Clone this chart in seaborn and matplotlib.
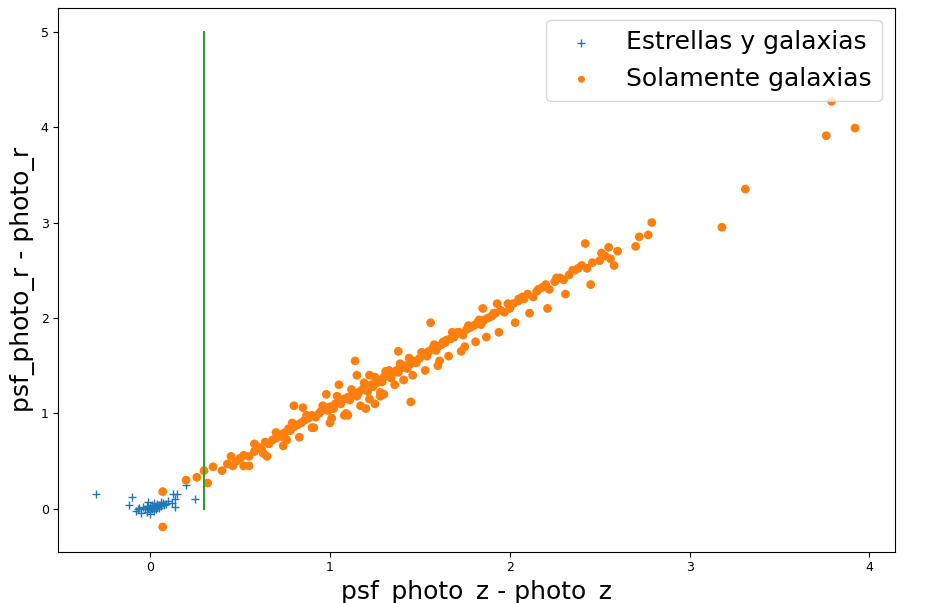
import matplotlib
matplotlib.use("Agg")
import matplotlib.pyplot as plt
import seaborn as sns

# stars + galaxies (blue crosses near the origin)
star_x = [-0.30, -0.12, -0.10, -0.08, -0.06, -0.05, -0.04, -0.03, -0.02, -0.02, -0.01, 0.00,
          0.00, 0.01, 0.01, 0.02, 0.02, 0.03, 0.03, 0.04, 0.04, 0.05, 0.05, 0.06, 0.07, 0.08,
          0.09, 0.10, 0.12, 0.13, 0.14, 0.14, 0.15, -0.01, 0.00, 0.02, 0.20, 0.25, -0.07, 0.06]
star_y = [0.16, 0.04, 0.12, -0.02, 0.01, -0.04, 0.02, 0.00, 0.03, -0.03, 0.01, 0.02,
          -0.05, 0.00, 0.04, 0.01, -0.02, 0.03, 0.00, 0.02, 0.05, 0.01, 0.04, 0.03, 0.06, 0.04,
          0.05, 0.08, 0.06, 0.15, 0.10, 0.02, 0.15, 0.07, -0.01, 0.06, 0.25, 0.10, 0.00, 0.07]

# galaxies only (orange dots)
gal_x = [0.07, 0.07, 0.20, 0.26, 0.32, 0.30, 0.35, 0.40, 0.43, 0.46, 0.48, 0.50, 0.52, 0.55,
         0.58, 0.60, 0.62, 0.64, 0.66, 0.68, 0.70, 0.72, 0.74, 0.75, 0.77, 0.78, 0.80, 0.82,
         0.84, 0.86, 0.88, 0.90, 0.92, 0.94, 0.95, 0.97, 0.99, 1.00, 1.02, 1.03, 1.05, 1.06,
         1.08, 1.10, 1.11, 1.13, 1.15, 1.16, 1.18, 1.20, 1.21, 1.23, 1.24, 1.26, 1.27, 1.29,
         1.30, 1.32, 1.34, 1.35, 1.37, 1.38, 1.40, 1.42, 1.43, 1.45, 1.47, 1.48, 1.50, 1.52,
         1.54, 1.55, 1.57, 1.59, 1.60, 1.62, 1.64, 1.65, 1.67, 1.69, 1.70, 1.72, 1.74, 1.76,
         1.78, 1.80, 1.82, 1.84, 1.86, 1.88, 1.90, 1.92, 1.95, 1.97, 2.00, 2.02, 2.05, 2.08,
         2.10, 2.13, 2.15, 2.18, 2.20, 2.22, 2.25, 2.28, 2.30, 2.33, 2.36, 2.40, 2.43, 2.46,
         2.50, 2.53, 2.56, 2.60, 2.70, 2.72, 2.77, 2.79, 3.18, 3.31, 3.76, 3.79, 3.92,
         0.80, 0.85, 0.90, 1.00, 1.05, 1.15, 1.25, 1.14, 1.45, 1.28, 1.22, 0.76, 0.65, 0.55,
         1.56, 1.75, 1.85, 2.05, 2.35, 2.42, 1.68, 1.38, 0.98, 1.08, 1.33, 1.60, 1.93,
         0.45, 0.52, 0.58, 0.63, 0.70, 0.74, 0.79, 0.83, 0.87, 0.91, 0.96, 1.01, 1.04, 1.09,
         1.12, 1.17, 1.19, 1.22, 1.25, 1.28, 1.31, 1.36, 1.39, 1.41, 1.44, 1.46, 1.51, 1.53,
         1.58, 1.61, 1.63, 1.66, 1.71, 1.73, 1.77, 1.81, 1.83, 1.87, 1.91, 1.94, 1.99, 2.03,
         2.07, 2.11, 2.16, 2.21, 2.26, 2.31, 2.38, 2.45, 2.51, 2.55, 2.58, 1.20, 1.10, 1.30]
gal_y = [0.18, -0.19, 0.30, 0.33, 0.27, 0.40, 0.44, 0.40, 0.47, 0.45, 0.50, 0.53, 0.56, 0.55,
         0.60, 0.65, 0.62, 0.70, 0.68, 0.72, 0.74, 0.78, 0.75, 0.80, 0.84, 0.82, 0.86, 0.88,
         0.90, 0.93, 0.95, 0.98, 0.96, 1.00, 1.02, 1.05, 1.03, 1.07, 1.05, 1.10, 1.12, 1.10,
         1.15, 1.17, 1.14, 1.20, 1.18, 1.22, 1.25, 1.27, 1.23, 1.30, 1.28, 1.32, 1.35, 1.33,
         1.38, 1.40, 1.37, 1.42, 1.45, 1.43, 1.48, 1.50, 1.47, 1.52, 1.55, 1.53, 1.58, 1.62,
         1.60, 1.65, 1.68, 1.66, 1.70, 1.72, 1.74, 1.77, 1.78, 1.80, 1.83, 1.85, 1.82, 1.88,
         1.90, 1.92, 1.95, 1.93, 1.98, 2.00, 2.02, 2.05, 2.08, 2.06, 2.10, 2.15, 2.18, 2.20,
         2.25, 2.22, 2.28, 2.32, 2.35, 2.30, 2.38, 2.42, 2.40, 2.45, 2.50, 2.55, 2.52, 2.58,
         2.60, 2.65, 2.62, 2.70, 2.75, 2.85, 2.87, 3.00, 2.95, 3.35, 3.91, 4.27, 3.99,
         1.08, 1.06, 0.85, 0.90, 1.30, 1.40, 1.10, 1.55, 1.12, 1.18, 1.40, 0.72, 0.55, 0.45,
         1.95, 1.70, 2.10, 2.20, 2.50, 2.78, 1.85, 1.65, 1.20, 0.98, 1.45, 1.50, 2.15,
         0.55, 0.45, 0.68, 0.58, 0.80, 0.66, 0.90, 0.75, 0.98, 0.85, 1.08, 0.95, 1.18, 1.00,
         1.25, 1.08, 1.32, 1.15, 1.38, 1.22, 1.44, 1.30, 1.52, 1.35, 1.58, 1.40, 1.64, 1.45,
         1.72, 1.55, 1.75, 1.60, 1.85, 1.65, 1.92, 1.75, 1.98, 1.80, 2.05, 1.85, 2.15, 1.95,
         2.22, 2.05, 2.30, 2.10, 2.42, 2.25, 2.52, 2.35, 2.68, 2.74, 2.55, 1.05, 0.98, 1.20]

fig, ax = plt.subplots(figsize=(9.27, 6.03), dpi=100)
sns.scatterplot(x=star_x, y=star_y, marker="+", color="tab:blue", s=40, linewidth=1,
                label="Estrellas y galaxias", ax=ax)
sns.scatterplot(x=gal_x, y=gal_y, marker="o", color="tab:orange", s=40, edgecolor="none",
                label="Solamente galaxias", ax=ax)
ax.plot([0.3, 0.3], [0, 5], color="tab:green")

ax.set_xlim(-0.51, 4.14)
ax.set_ylim(-0.45, 5.25)
ax.set_xlabel("psf_photo_z - photo_z", fontsize=18)
ax.set_ylabel("psf_photo_r - photo_r", fontsize=18)
ax.tick_params(labelsize=9)
ax.legend(fontsize=18, markerscale=0.8)
fig.subplots_adjust(left=0.063, right=0.965, top=0.987, bottom=0.085)
fig.savefig("out.png")
